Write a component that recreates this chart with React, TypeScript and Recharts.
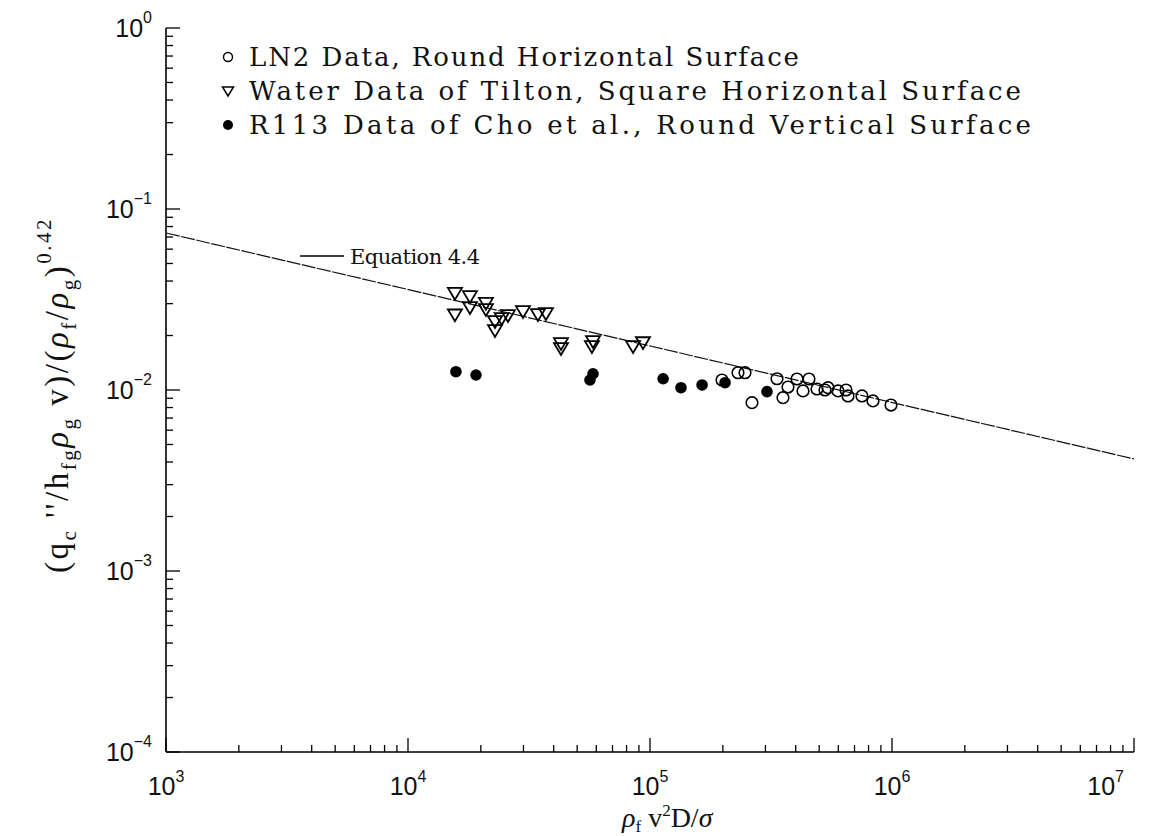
import React from 'react';
import { ScatterChart, Scatter, XAxis, YAxis, Legend } from 'recharts';

const W = 1160;
const H = 836;

// LN2 Data, Round Horizontal Surface
const ln2X = [198400, 231000, 246900, 263900, 334800, 371700, 354400, 404900, 428800, 453900, 489800, 528500, 543800, 598300, 645700, 658000, 751600, 834600, 990600];
const ln2Y = [0.01136, 0.01246, 0.01246, 0.00851, 0.01154, 0.01039, 0.00907, 0.0115, 0.00988, 0.0115, 0.01013, 0.0100, 0.0103, 0.00988, 0.0100, 0.00927, 0.00927, 0.0087, 0.00826];

// Water Data of Tilton, Square Horizontal Surface
const waterX = [15630, 15630, 18030, 18030, 20990, 20990, 22880, 22880, 24380, 25880, 29860, 34430, 37150, 42870, 42870, 58140, 57540, 85110, 93540];
const waterY = [0.03448, 0.02619, 0.03306, 0.02875, 0.03037, 0.02803, 0.02405, 0.02146, 0.02499, 0.02597, 0.02732, 0.0263, 0.02663, 0.01818, 0.01706, 0.01865, 0.0175, 0.0175, 0.01841];

// R113 Data of Cho et al., Round Vertical Surface
const r113X = [15780, 19100, 58140, 56490, 113300, 134300, 164100, 204200, 304400];
const r113Y = [0.01262, 0.0121, 0.0123, 0.01136, 0.01154, 0.0103, 0.01066, 0.01097, 0.00979];

// Equation 4.4 (end points of the straight line)
const eqX = [1000, 10000000];
const eqY = [0.0737, 0.00416];

const xMajor = [1e3, 1e4, 1e5, 1e6, 1e7];
const xMajorExp = ['3', '4', '5', '6', '7'];
const yMajor = [1e-4, 1e-3, 1e-2, 1e-1, 1];
const yMajorExp = ['\u22124', '\u22123', '\u22122', '\u22121', '0'];

const legendLabels = [
  'LN2 Data, Round Horizontal Surface',
  'Water Data of Tilton, Square Horizontal Surface',
  'R113 Data of Cho et al., Round Vertical Surface',
];
const eqLabel = 'Equation 4.4';

const zip = (xs: number[], ys: number[]) => xs.map((x, i) => ({ x, y: ys[i] }));
const ln2Data = zip(ln2X, ln2Y);
const waterData = zip(waterX, waterY);
const r113Data = zip(r113X, r113Y);
const eqData = zip(eqX, eqY);

const withMinors = (majors: number[]) => {
  const out: number[] = [];
  majors.forEach((m, i) => {
    out.push(m);
    if (i < majors.length - 1) {
      for (let k = 2; k <= 9; k++) out.push(m * k);
    }
  });
  return out;
};
const xTicks = withMinors(xMajor);
const yTicks = withMinors(yMajor);

const isMajor = (v: number) => Math.abs(Math.log10(v) - Math.round(Math.log10(v))) < 1e-6;
const MAJ = 14;
const MIN = 7;
const SANS = '"Liberation Sans", Arial, sans-serif';
const SERIF = '"DejaVu Serif", serif';
const SERIF2 = '"Liberation Serif", serif';

const XTickBottom = (props: any) => {
  const { x, y, payload } = props;
  const v = payload.value;
  const major = isMajor(v);
  const idx = xMajor.findIndex((m) => Math.abs(m - v) / m < 1e-6);
  const last = idx === xMajor.length - 1;
  return (
    <g>
      <line x1={x} x2={x} y1={y} y2={y - (major ? MAJ : MIN)} stroke="#000" strokeWidth={1.3} />
      {major && (
        <text x={last ? x - 10 : x} y={y + 43} textAnchor={last ? 'end' : 'middle'} fontFamily={SANS} fontSize={25} fill="#111">
          10
          <tspan dy={-13} fontSize={16}>{xMajorExp[idx]}</tspan>
        </text>
      )}
    </g>
  );
};

const XTickTop = (props: any) => {
  const { x, y, payload } = props;
  const major = isMajor(payload.value);
  return <line x1={x} x2={x} y1={y} y2={y + (major ? MAJ : MIN)} stroke="#000" strokeWidth={1.3} />;
};

const YTickLeft = (props: any) => {
  const { x, y, payload } = props;
  const v = payload.value;
  const major = isMajor(v);
  const idx = yMajor.findIndex((m) => Math.abs(m - v) / m < 1e-6);
  return (
    <g>
      <line x1={x} x2={x + (major ? MAJ : MIN)} y1={y} y2={y} stroke="#000" strokeWidth={1.3} />
      {major && (
        <text x={x - 14} y={y + 9} textAnchor="end" fontFamily={SANS} fontSize={25} fill="#111">
          10
          <tspan dy={-14} fontSize={16}>{yMajorExp[idx]}</tspan>
        </text>
      )}
    </g>
  );
};

const YTickRight = (props: any) => {
  const { x, y, payload } = props;
  const major = isMajor(payload.value);
  return <line x1={x} x2={x - (major ? MAJ : MIN)} y1={y} y2={y} stroke="#000" strokeWidth={1.3} />;
};

const OpenCircle = (props: any) => {
  const { cx, cy } = props;
  if (cx == null || cy == null) return <g />;
  return <circle cx={cx} cy={cy} r={5.8} fill="none" stroke="#000" strokeWidth={1.6} />;
};
const DownTriangle = (props: any) => {
  const { cx, cy } = props;
  if (cx == null || cy == null) return <g />;
  return (
    <polygon
      points={`${cx - 7},${cy - 4.8} ${cx + 7},${cy - 4.8} ${cx},${cy + 7}`}
      fill="none"
      stroke="#000"
      strokeWidth={1.8}
    />
  );
};
const FilledDot = (props: any) => {
  const { cx, cy } = props;
  if (cx == null || cy == null) return <g />;
  return <circle cx={cx} cy={cy} r={5.8} fill="#000" />;
};
const NoShape = () => <g />;

const Overlay = () => {
  const rowY = [57, 91, 125];
  const rowLen = [550, 772, 782];
  const mx = 228;
  return (
    <svg width={W} height={H} style={{ position: 'absolute', left: 0, top: 0, pointerEvents: 'none' }}>
      <circle cx={mx} cy={rowY[0]} r={4.5} fill="none" stroke="#000" strokeWidth={1.4} />
      <polygon points={`${mx - 5.5},${rowY[1] - 4} ${mx + 5.5},${rowY[1] - 4} ${mx},${rowY[1] + 5}`} fill="none" stroke="#000" strokeWidth={1.5} />
      <circle cx={mx} cy={rowY[2]} r={5} fill="#000" />
      {legendLabels.map((t, i) => (
        <text
          key={t}
          x={249}
          y={rowY[i] + 9}
          fontFamily={SERIF}
          fontSize={26}
          textLength={rowLen[i]}
          lengthAdjust="spacing"
          fill="#111"
        >
          {t}
        </text>
      ))}
      <line x1={300} x2={344} y1={256} y2={256} stroke="#000" strokeWidth={1.4} />
      <text x={350} y={264} fontFamily={SERIF} fontSize={21} textLength={130} lengthAdjust="spacing" fill="#111">
        {eqLabel}
      </text>
      <text x={622} y={827} fontFamily={SERIF2} fontSize={28} fill="#111">
        <tspan fontStyle="italic">{'\u03c1'}</tspan>
        <tspan fontSize={17} dy={5}>f</tspan>
        <tspan dy={-5}>{' v'}</tspan>
        <tspan fontSize={17} dy={-11}>2</tspan>
        <tspan dy={11}>D/</tspan>
        <tspan fontStyle="italic">{'\u03c3'}</tspan>
      </text>
      <text
        x={0}
        y={0}
        transform="translate(68, 395) rotate(-90)"
        textAnchor="middle"
        fontFamily={SERIF2}
        fontSize={33}
        letterSpacing={2.5}
        fill="#111"
      >
        (q<tspan fontSize={21} dy={8}>c</tspan>
        <tspan dy={-8}>{" ''/h"}</tspan>
        <tspan fontSize={21} dy={8}>fg</tspan>
        <tspan fontStyle="italic" dy={-8}>{'\u03c1'}</tspan>
        <tspan fontSize={21} dy={8}>g</tspan>
        <tspan dy={-8}>{' v)/('}</tspan>
        <tspan fontStyle="italic">{'\u03c1'}</tspan>
        <tspan fontSize={21} dy={8}>f</tspan>
        <tspan dy={-8}>/</tspan>
        <tspan fontStyle="italic">{'\u03c1'}</tspan>
        <tspan fontSize={21} dy={8}>g</tspan>
        <tspan dy={-8}>)</tspan>
        <tspan fontSize={21} dy={-17}>0.42</tspan>
      </text>
    </svg>
  );
};

export default function App() {
  return (
    <div style={{ position: 'absolute', left: 0, top: 0, width: W, height: H, background: '#fff' }}>
      <ScatterChart width={W} height={H} margin={{ top: 28, right: 26, left: 0, bottom: 0 }}>
        <XAxis
          xAxisId="b"
          dataKey="x"
          type="number"
          scale="log"
          domain={[1e3, 1e7]}
          allowDataOverflow
          ticks={xTicks}
          interval={0}
          height={84}
          tickSize={0}
          tickMargin={0}
          axisLine={{ stroke: '#000', strokeWidth: 1.6 }}
          tickLine={false}
          tick={<XTickBottom />}
        />
        <XAxis
          xAxisId="t"
          orientation="top"
          dataKey="x"
          type="number"
          scale="log"
          domain={[1e3, 1e7]}
          allowDataOverflow
          ticks={xTicks}
          interval={0}
          height={0}
          tickSize={0}
          tickMargin={0}
          axisLine={{ stroke: '#000', strokeWidth: 1.6 }}
          tickLine={false}
          tick={<XTickTop />}
        />
        <YAxis
          yAxisId="l"
          dataKey="y"
          type="number"
          scale="log"
          domain={[1e-4, 1]}
          allowDataOverflow
          ticks={yTicks}
          interval={0}
          width={166}
          tickSize={0}
          tickMargin={0}
          axisLine={{ stroke: '#000', strokeWidth: 1.6 }}
          tickLine={false}
          tick={<YTickLeft />}
        />
        <YAxis
          yAxisId="r"
          orientation="right"
          dataKey="y"
          type="number"
          scale="log"
          domain={[1e-4, 1]}
          allowDataOverflow
          ticks={yTicks}
          interval={0}
          width={0}
          tickSize={0}
          tickMargin={0}
          axisLine={{ stroke: '#000', strokeWidth: 1.6 }}
          tickLine={false}
          tick={<YTickRight />}
        />
        <Scatter
          name="Equation 4.4"
          data={eqData}
          xAxisId="b"
          yAxisId="l"
          line={{ stroke: '#111', strokeWidth: 1.2, strokeDasharray: '14 1.5' }}
          lineType="joint"
          shape={<NoShape />}
          isAnimationActive={false}
        />
        <Scatter name={legendLabels[0]} data={ln2Data} xAxisId="b" yAxisId="l" shape={<OpenCircle />} isAnimationActive={false} />
        <Scatter name={legendLabels[1]} data={waterData} xAxisId="b" yAxisId="l" shape={<DownTriangle />} isAnimationActive={false} />
        <Scatter name={legendLabels[2]} data={r113Data} xAxisId="b" yAxisId="l" shape={<FilledDot />} isAnimationActive={false} />
        <Legend
          layout="vertical"
          align="center"
          verticalAlign="middle"
          wrapperStyle={{ left: 0, top: 0, width: W, height: H, pointerEvents: 'none' }}
          content={() => <Overlay />}
        />
      </ScatterChart>
    </div>
  );
}
